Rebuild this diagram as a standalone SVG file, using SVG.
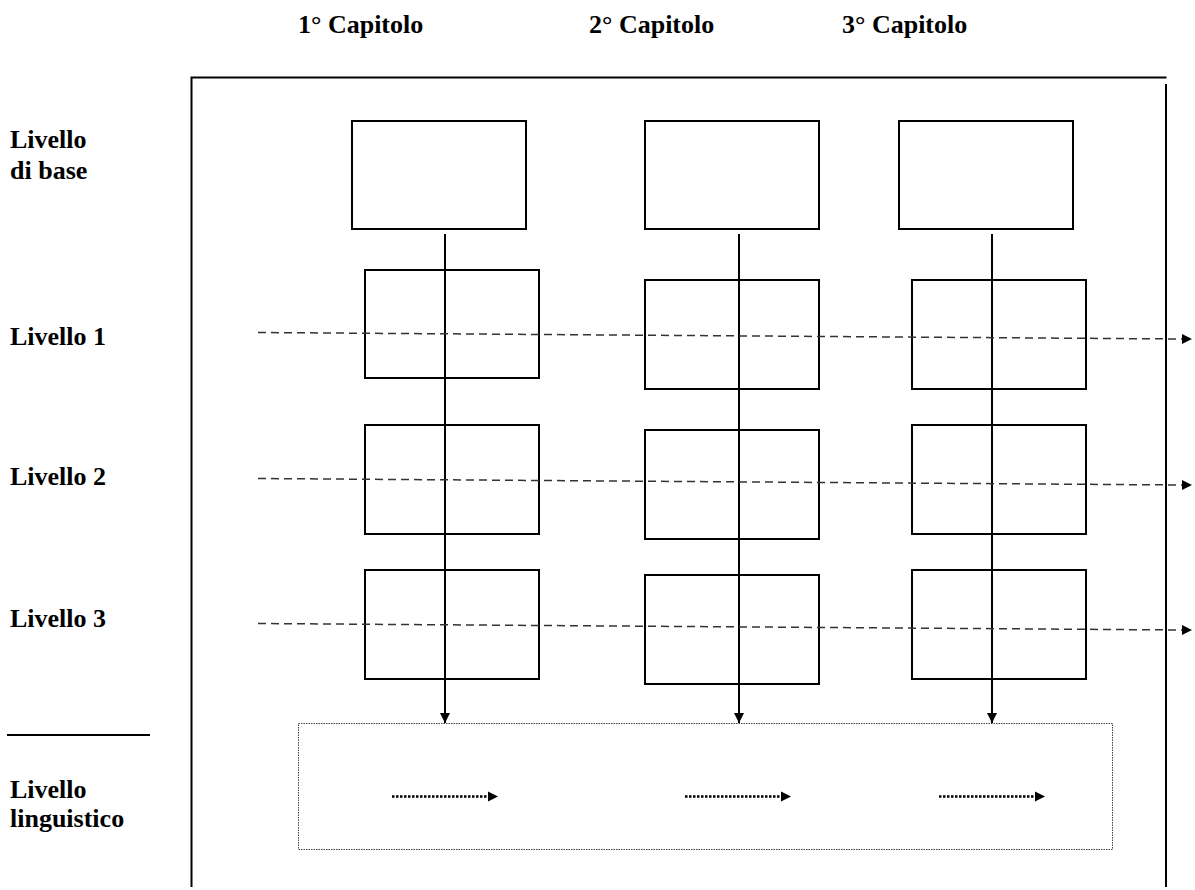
<svg xmlns="http://www.w3.org/2000/svg" width="1195" height="890" viewBox="0 0 1195 890">
<style>
text{font-family:"Liberation Serif","Times New Roman",serif;font-weight:bold;font-size:26px;fill:#000}
.box{fill:#fff;stroke:#000;stroke-width:2}
.frame{fill:none;stroke:#000;stroke-width:2}
.vflow{stroke:#000;stroke-width:2;fill:none}
.hflow{stroke:#333;stroke-width:1.5;stroke-dasharray:8 5;fill:none}
.ling{stroke:#000;stroke-width:2.5;stroke-dasharray:2.5 1.5;fill:none}
.lbox{fill:none;stroke:#444;stroke-width:1;stroke-dasharray:1.5 1}
</style>
<defs>
<marker id="ah" markerWidth="10" markerHeight="10" refX="10" refY="5" orient="auto" markerUnits="userSpaceOnUse"><path d="M0,0 L10,5 L0,10 Z" fill="#000"/></marker>
</defs>
<rect width="1195" height="890" fill="#fff"/>
<g id="headings">
<text x="298" y="33">1° Capitolo</text>
<text x="589" y="33">2° Capitolo</text>
<text x="842" y="33">3° Capitolo</text>
</g>
<g id="labels">
<text x="10" y="148">Livello</text>
<text x="10" y="179">di base</text>
<text x="10" y="345">Livello 1</text>
<text x="10" y="485">Livello 2</text>
<text x="10" y="627">Livello 3</text>
<text x="10" y="798">Livello</text>
<text x="10" y="827">linguistico</text>
</g>
<g id="frame">
<path class="frame" d="M191.5,887 V77.5 H1166.5"/>
<path class="frame" d="M1166,84 V887"/>
<path class="frame" d="M7,735 H150"/>
</g>
<g id="base1"><rect class="box" x="352" y="121" width="174" height="108"/></g>
<g id="base2"><rect class="box" x="645" y="121" width="174" height="108"/></g>
<g id="base3"><rect class="box" x="899" y="121" width="174" height="108"/></g>
<g id="l1c1"><rect class="box" x="365" y="270" width="174" height="108"/></g>
<g id="l1c2"><rect class="box" x="645" y="280" width="174" height="109"/></g>
<g id="l1c3"><rect class="box" x="912" y="280" width="174" height="109"/></g>
<g id="l2c1"><rect class="box" x="365" y="425" width="174" height="109"/></g>
<g id="l2c2"><rect class="box" x="645" y="430" width="174" height="109"/></g>
<g id="l2c3"><rect class="box" x="912" y="425" width="174" height="109"/></g>
<g id="l3c1"><rect class="box" x="365" y="570" width="174" height="109"/></g>
<g id="l3c2"><rect class="box" x="645" y="575" width="174" height="109"/></g>
<g id="l3c3"><rect class="box" x="912" y="570" width="174" height="109"/></g>
<g id="linguistic"><rect class="lbox" x="298.5" y="723.5" width="814" height="126"/></g>
<g id="connectors">
<line class="vflow" x1="445" y1="234" x2="445" y2="723" marker-end="url(#ah)"/>
<line class="vflow" x1="739" y1="234" x2="739" y2="723" marker-end="url(#ah)"/>
<line class="vflow" x1="992" y1="234" x2="992" y2="723" marker-end="url(#ah)"/>
<line class="hflow" x1="258" y1="332.5" x2="1182" y2="339" />
<path d="M1182,334 L1192,339 L1182,344 Z" fill="#000"/>
<line class="hflow" x1="258" y1="478.5" x2="1182" y2="485"/>
<path d="M1182,480 L1192,485 L1182,490 Z" fill="#000"/>
<line class="hflow" x1="258" y1="623.5" x2="1182" y2="630"/>
<path d="M1182,625 L1192,630 L1182,635 Z" fill="#000"/>
<line class="ling" x1="392" y1="796.5" x2="489" y2="796.5"/>
<path d="M488,791.5 L498,796.5 L488,801.5 Z" fill="#000"/>
<line class="ling" x1="685" y1="796.5" x2="782" y2="796.5"/>
<path d="M781,791.5 L791,796.5 L781,801.5 Z" fill="#000"/>
<line class="ling" x1="939" y1="796.5" x2="1036" y2="796.5"/>
<path d="M1035,791.5 L1045,796.5 L1035,801.5 Z" fill="#000"/>
</g>
</svg>
